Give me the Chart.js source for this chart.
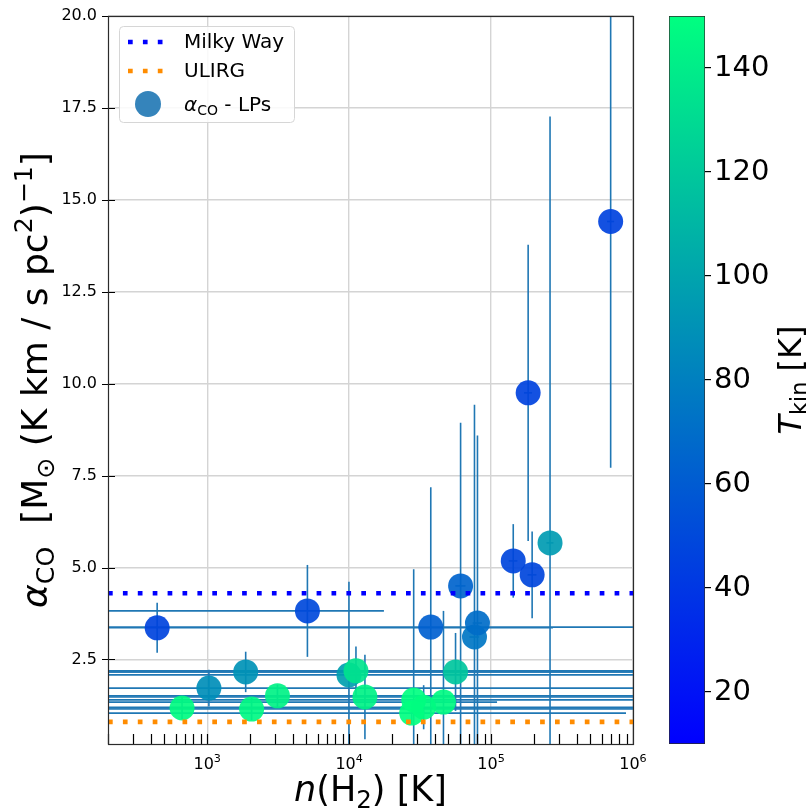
<!DOCTYPE html>
<html>
<head>
<meta charset="utf-8">
<script src="https://cdn.jsdelivr.net/npm/chart.js@4.4.1/dist/chart.umd.min.js"></script>
<style>
  html, body { margin: 0; padding: 0; background: #fff; }
  #wrap { position: relative; width: 806px; height: 809px; }
  #main { position: absolute; left: 0; top: 0; }
  #cbar { position: absolute; left: 640px; top: 0; }
</style>
</head>
<body>
<div id="wrap">
  <canvas id="main" width="806" height="809"></canvas>
  <canvas id="cbar" width="166" height="809"></canvas>
</div>
<script>
// n(H2), alpha_CO with errors and kinetic temperature for each LP
const nH2      = [444, 665, 1028, 1867, 2055, 3126, 5082, 9970, 11170, 12920, 28500, 27600, 33500, 46200, 37600, 56200, 61000, 76400, 80200, 143300, 182500, 194700, 260300, 696000];
const nH2Err   = [272600, 1.6e6, 1.5e6, 1.8e6, 1.4e6, 1.7e6, 12500, 1.5e6, 1.6e6, 1.4e6, 1.9e6, 865000, 1.5e6, 64000, 1.3e6, 1.6e6, 5000, 6000, 6000, 10000, 12000, 14000, 15000, 40000];
const alphaCO  = [3.36, 1.18, 1.72, 2.16, 1.15, 1.51, 3.82, 2.08, 2.19, 1.48, 1.40, 1.04, 1.20, 1.34, 3.38, 2.16, 4.50, 3.11, 3.49, 5.18, 9.75, 4.80, 5.67, 14.41];
const alphaErr = [0.68, 0.3, 0.5, 0.55, 0.3, 0.3, 1.25, 2.53, 0.66, 1.15, 3.55, 0.3, 0.6, 2.48, 3.8, 1.06, 4.44, 6.32, 5.1, 1.0, 4.03, 1.18, 11.6, 6.7];
const tKin     = [47, 148, 88, 90, 146, 143, 50, 98, 135, 143, 150, 150, 149, 147, 62, 118, 65, 75, 70, 48, 46, 48, 95, 46];

// reference conversion factors
const alphaMilkyWay = 4.3;
const alphaULIRG = 0.8;

// axes
const xMin = 200, xMax = 1e6;
const yMin = 0.2, yMax = 20;
const xMajor = [1e3, 1e4, 1e5, 1e6];
const yTicks = [2.5, 5, 7.5, 10, 12.5, 15, 17.5, 20];
const tMin = 10, tMax = 150;
const cbTicks = [20, 40, 60, 80, 100, 120, 140];

const FONT = 'DejaVu Sans';
Chart.defaults.font.family = FONT;
Chart.defaults.color = '#000';

// matplotlib "winter": blue -> spring green
function winter(t, a) {
  const f = Math.min(1, Math.max(0, (t - tMin) / (tMax - tMin)));
  return 'rgba(0,' + Math.round(255 * f) + ',' + Math.round(255 * (1 - f / 2)) + ',' + a + ')';
}

// text with sub/superscripts: parts = [{t, s (size factor), up (em), it}]
function fontOf(p, base) {
  return (p.it ? 'italic ' : '') + (base * (p.s || 1)) + 'px "' + FONT + '"';
}
function richWidth(ctx, parts, base) {
  let w = 0;
  parts.forEach(p => { ctx.font = fontOf(p, base); w += ctx.measureText(p.t).width; });
  return w;
}
function drawRich(ctx, parts, base, cx, cy) {
  let x = cx - richWidth(ctx, parts, base) / 2;
  ctx.textAlign = 'left';
  ctx.textBaseline = 'alphabetic';
  parts.forEach(p => {
    ctx.font = fontOf(p, base);
    ctx.fillText(p.t, x, cy - (p.up || 0) * base);
    x += ctx.measureText(p.t).width;
  });
}
const SUB = { s: 0.7, up: -0.2 };
const SUP = { s: 0.7, up: 0.42 };

// keep the plot box where the layout padding puts it
function noOverhang(s) {
  s.paddingTop = 0;
  s.paddingBottom = 0;
}

const errorBars = {
  id: 'errorBars',
  beforeDatasetsDraw(chart) {
    const { ctx, chartArea: a, scales: { x, y } } = chart;
    ctx.save();
    ctx.beginPath();
    ctx.rect(a.left, a.top, a.right - a.left, a.bottom - a.top);
    ctx.clip();
    ctx.strokeStyle = '#1f77b4';
    ctx.lineWidth = 1.6;
    nH2.forEach((n, i) => {
      const px = x.getPixelForValue(n);
      const py = y.getPixelForValue(alphaCO[i]);
      const lo = n - nH2Err[i];
      const x0 = lo > 0 ? x.getPixelForValue(lo) : a.left - 5;
      const x1 = x.getPixelForValue(n + nH2Err[i]);
      ctx.beginPath();
      ctx.moveTo(x0, py);
      ctx.lineTo(x1, py);
      ctx.stroke();
      ctx.beginPath();
      ctx.moveTo(px, y.getPixelForValue(alphaCO[i] + alphaErr[i]));
      ctx.lineTo(px, y.getPixelForValue(alphaCO[i] - alphaErr[i]));
      ctx.stroke();
    });
    ctx.restore();
  }
};

const decorations = {
  id: 'decorations',
  afterDraw(chart) {
    const { ctx, chartArea: a, scales: { x, y } } = chart;
    ctx.save();
    ctx.strokeStyle = '#000';
    ctx.lineWidth = 1.2;

    // x ticks, pointing into the axes
    ctx.beginPath();
    for (let d = 100; d < xMax; d *= 10) {
      for (let k = 1; k <= 9; k++) {
        const v = d * k;
        if (v < xMin || v > xMax) continue;
        const px = Math.round(x.getPixelForValue(v)) + 0.5;
        ctx.moveTo(px, a.bottom);
        ctx.lineTo(px, a.bottom - 10);
      }
    }
    // y ticks crossing the spine
    yTicks.forEach(v => {
      const py = Math.round(y.getPixelForValue(v)) + 0.5;
      ctx.moveTo(a.left - 6, py);
      ctx.lineTo(a.left + 7, py);
    });
    ctx.stroke();

    // frame
    ctx.strokeStyle = '#2b2b2b';
    ctx.strokeRect(Math.round(a.left) + 0.5, Math.round(a.top) + 0.5,
                   Math.round(a.right - a.left), Math.round(a.bottom - a.top));

    // x tick labels 10^n
    ctx.fillStyle = '#000';
    xMajor.forEach(v => {
      const px = x.getPixelForValue(v);
      drawRich(ctx, [{ t: '10' }, { t: String(Math.round(Math.log10(v))), ...SUP }], 16, px, 769);
    });

    // axis titles
    drawRich(ctx, [
      { t: 'n', it: true }, { t: '(H' }, { t: '2', ...SUB }, { t: ') [K]' }
    ], 35, (a.left + a.right) / 2, 801);

    ctx.save();
    ctx.translate(47, (a.top + a.bottom) / 2);
    ctx.rotate(-Math.PI / 2);
    drawRich(ctx, [
      { t: 'α', it: true }, { t: 'CO', ...SUB }, { t: '  [M' }, { t: '⊙', ...SUB },
      { t: ' (K km / s pc' }, { t: '2', ...SUP }, { t: ')' }, { t: '−1', ...SUP }, { t: ']' }
    ], 36, 0, 0);
    ctx.restore();

    // legend
    const lx = 119, ly = 26, lw = 175, lh = 96;
    ctx.beginPath();
    ctx.roundRect(lx + 0.5, ly + 0.5, lw, lh, 4);
    ctx.fillStyle = 'rgba(255,255,255,0.85)';
    ctx.fill();
    ctx.strokeStyle = '#d6d6d6';
    ctx.lineWidth = 1;
    ctx.stroke();

    ctx.lineWidth = 4.7;
    ctx.lineCap = 'butt';
    ctx.setLineDash([4.7, 10.2]);
    [['#0000ff', 42], ['#ff8c00', 71]].forEach(([c, yy]) => {
      ctx.strokeStyle = c;
      ctx.beginPath();
      ctx.moveTo(128, yy);
      ctx.lineTo(166, yy);
      ctx.stroke();
    });
    ctx.setLineDash([]);
    ctx.fillStyle = 'rgba(31,119,180,0.9)';
    ctx.beginPath();
    ctx.arc(148, 104, 13, 0, Math.PI * 2);
    ctx.fill();

    ctx.fillStyle = '#000';
    ctx.font = '20px "' + FONT + '"';
    ctx.textAlign = 'left';
    ctx.textBaseline = 'middle';
    ctx.fillText('Milky Way', 184, 43);
    ctx.fillText('ULIRG', 184, 72);
    const lab = [{ t: 'α', it: true }, { t: 'CO', ...SUB }, { t: ' - LPs' }];
    drawRich(ctx, lab, 20, 184 + richWidth(ctx, lab, 20) / 2, 111);
    ctx.restore();
  }
};

new Chart(document.getElementById('main'), {
  type: 'scatter',
  data: {
    datasets: [
      {
        label: 'Milky Way',
        type: 'line',
        data: [{ x: xMin, y: alphaMilkyWay }, { x: xMax, y: alphaMilkyWay }],
        borderColor: '#0000ff',
        borderWidth: 4.7,
        borderDash: [4.7, 10.2],
        borderCapStyle: 'butt',
        pointRadius: 0,
        order: 0
      },
      {
        label: 'ULIRG',
        type: 'line',
        data: [{ x: xMin, y: alphaULIRG }, { x: xMax, y: alphaULIRG }],
        borderColor: '#ff8c00',
        borderWidth: 4.7,
        borderDash: [4.7, 10.2],
        borderCapStyle: 'butt',
        pointRadius: 0,
        order: 0
      },
      {
        label: 'alpha_CO - LPs',
        data: nH2.map((n, i) => ({ x: n, y: alphaCO[i] })),
        pointBackgroundColor: tKin.map(t => winter(t, 0.92)),
        pointBorderWidth: 0,
        pointRadius: 12.5,
        pointHoverRadius: 12.5,
        order: 1
      }
    ]
  },
  options: {
    responsive: false,
    animation: false,
    events: [],
    layout: { padding: { left: 0, top: 16, right: 173, bottom: 0 } },
    plugins: { legend: { display: false }, tooltip: { enabled: false } },
    scales: {
      x: {
        type: 'logarithmic',
        min: xMin,
        max: xMax,
        afterBuildTicks: s => { s.ticks = xMajor.map(v => ({ value: v })); },
        afterFit: s => { s.height = 65; },
        ticks: { display: false },
        grid: { color: '#d4d4d4', lineWidth: 1.4, drawTicks: false },
        border: { display: false }
      },
      y: {
        min: yMin,
        max: yMax,
        afterBuildTicks: s => { s.ticks = yTicks.map(v => ({ value: v })); },
        afterFit: s => { s.width = 108; noOverhang(s); },
        ticks: { font: { size: 16 }, padding: 11, callback: v => v.toFixed(1) },
        grid: { color: '#d4d4d4', lineWidth: 1.4, drawTicks: false },
        border: { display: false }
      }
    }
  },
  plugins: [errorBars, decorations]
});

// colour bar for T_kin
const cbTitle = {
  id: 'cbTitle',
  afterDraw(chart) {
    const { ctx, chartArea: a } = chart;
    ctx.save();
    ctx.fillStyle = '#000';
    ctx.translate(161, (a.top + a.bottom) / 2);
    ctx.rotate(-Math.PI / 2);
    drawRich(ctx, [{ t: 'T', it: true }, { t: 'kin', ...SUB }, { t: ' [K]' }], 32, 0, 0);
    ctx.restore();
  }
};

new Chart(document.getElementById('cbar'), {
  type: 'bar',
  data: {
    labels: ['T'],
    datasets: [{
      data: [[tMin, tMax]],
      backgroundColor: c => {
        const { chart } = c;
        if (!chart.chartArea) return winter(80, 1);
        const s = chart.scales.y;
        const g = chart.ctx.createLinearGradient(0, s.getPixelForValue(tMin), 0, s.getPixelForValue(tMax));
        g.addColorStop(0, winter(tMin, 1));
        g.addColorStop(1, winter(tMax, 1));
        return g;
      },
      borderColor: '#2b2b2b',
      borderWidth: 1,
      borderSkipped: false,
      barPercentage: 1,
      categoryPercentage: 1
    }]
  },
  options: {
    responsive: false,
    animation: false,
    events: [],
    layout: { padding: { left: 29, top: 16, right: 0, bottom: 65 } },
    plugins: { legend: { display: false }, tooltip: { enabled: false } },
    scales: {
      x: { display: false },
      y: {
        position: 'right',
        min: tMin,
        max: tMax,
        afterBuildTicks: s => { s.ticks = cbTicks.map(v => ({ value: v })); },
        afterFit: s => { s.width = 101; noOverhang(s); },
        ticks: { font: { size: 29 }, padding: 3 },
        grid: { drawOnChartArea: false, drawTicks: true, tickLength: 6, color: '#000', lineWidth: 1.2 },
        border: { display: false }
      }
    }
  },
  plugins: [cbTitle]
});
</script>
</body>
</html>
